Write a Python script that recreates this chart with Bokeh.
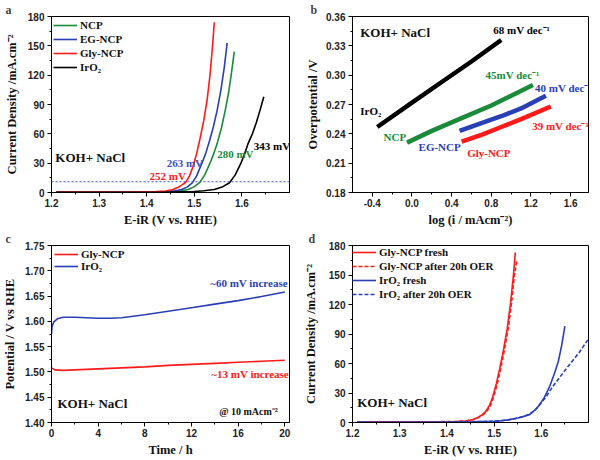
from bokeh.plotting import figure
from bokeh.layouts import gridplot
from bokeh.models import (Label, Span, SingleIntervalTicker, PrintfTickFormatter, Range1d)
from bokeh.embed import file_html
from bokeh.resources import INLINE

# ---------------- data ----------------
# Panel a: LSV curves (E-iR in V vs RHE, current density mA/cm2)
a_gly_x = [1.21, 1.30, 1.38, 1.42, 1.44, 1.455, 1.465, 1.475, 1.482, 1.49, 1.497, 1.505, 1.512, 1.52, 1.527, 1.533, 1.538, 1.542]
a_gly_y = [0.4, 0.5, 0.7, 1.0, 1.6, 3.0, 5.0, 8.0, 10.5, 17, 26, 40, 55, 74, 95, 120, 148, 174]
a_eg_x = [1.21, 1.30, 1.40, 1.44, 1.46, 1.473, 1.485, 1.495, 1.505, 1.516, 1.524, 1.532, 1.540, 1.548, 1.556, 1.563, 1.569]
a_eg_y = [0.3, 0.4, 0.6, 1.0, 1.8, 3.0, 5.5, 9.5, 17, 30, 40, 53, 67, 84, 105, 128, 153]
a_ncp_x = [1.21, 1.30, 1.40, 1.45, 1.47, 1.487, 1.50, 1.511, 1.522, 1.533, 1.541, 1.548, 1.557, 1.565, 1.572, 1.578, 1.584]
a_ncp_y = [0.2, 0.3, 0.4, 0.8, 1.5, 3.0, 6.0, 10, 18, 30, 40, 50, 66, 84, 102, 122, 144]
a_iro2_x = [1.21, 1.30, 1.40, 1.45, 1.50, 1.52, 1.542, 1.56, 1.574, 1.586, 1.598, 1.606, 1.613, 1.622, 1.630, 1.638, 1.646]
a_iro2_y = [0.1, 0.2, 0.3, 0.5, 1.0, 1.8, 3.0, 6.0, 10, 18, 30, 40, 50, 60, 71, 84, 98]
ref_current = 11

# Panel b: Tafel plots (log i, overpotential V)
b_iro2_x = [-0.35, 0.0, 0.3, 0.6, 0.9]
b_iro2_y = [0.247, 0.272, 0.293, 0.314, 0.336]
b_ncp_x = [-0.05, 0.2, 0.5, 0.8, 1.0, 1.22]
b_ncp_y = [0.231, 0.243, 0.256, 0.269, 0.279, 0.290]
b_eg_x = [0.48, 0.7, 0.9, 1.1, 1.35]
b_eg_y = [0.243, 0.251, 0.258, 0.266, 0.279]
b_gly_x = [0.50, 0.7, 0.9, 1.1, 1.4]
b_gly_y = [0.232, 0.239, 0.247, 0.255, 0.268]

# Panel c: chronopotentiometry (time h, potential V vs RHE)
c_iro2_t = [0, 0.05, 0.2, 0.5, 1, 2, 3, 4, 5, 6, 7, 8, 10, 12, 14, 16, 18, 20]
c_iro2_v = [1.575, 1.590, 1.599, 1.605, 1.608, 1.608, 1.607, 1.606, 1.606, 1.607, 1.610, 1.613, 1.620, 1.627, 1.634, 1.641, 1.649, 1.658]
c_gly_t = [0, 0.3, 1, 2, 4, 6, 8, 10, 12, 14, 16, 18, 20]
c_gly_v = [1.508, 1.504, 1.503, 1.504, 1.506, 1.508, 1.510, 1.513, 1.515, 1.517, 1.519, 1.521, 1.523]

# Panel d: LSV before / after 20 h OER
d_gly_fresh_x = [1.21, 1.30, 1.38, 1.42, 1.44, 1.455, 1.465, 1.475, 1.482, 1.49, 1.497, 1.505, 1.512, 1.52, 1.528, 1.535, 1.541, 1.545]
d_gly_fresh_y = [0.5, 0.6, 0.8, 1.0, 1.5, 3.0, 5.0, 8.0, 11, 17, 26, 40, 55, 74, 96, 122, 150, 173]
d_gly_after_x = [1.21, 1.30, 1.38, 1.42, 1.44, 1.457, 1.467, 1.477, 1.484, 1.492, 1.499, 1.507, 1.514, 1.522, 1.530, 1.537, 1.543, 1.548]
d_gly_after_y = [0.5, 0.6, 0.8, 1.0, 1.5, 3.0, 5.0, 8.0, 11, 17, 26, 40, 55, 74, 96, 122, 150, 165]
d_iro2_fresh_x = [1.21, 1.30, 1.40, 1.45, 1.50, 1.513, 1.53, 1.55, 1.565, 1.575, 1.59, 1.606, 1.618, 1.628, 1.636, 1.643, 1.650]
d_iro2_fresh_y = [0.2, 0.3, 0.5, 0.8, 1.3, 1.7, 2.7, 4.5, 6.5, 8.0, 14, 25, 37, 50, 62, 78, 98]
d_iro2_after_x = [1.21, 1.30, 1.40, 1.45, 1.50, 1.513, 1.53, 1.55, 1.565, 1.575, 1.585, 1.595, 1.61, 1.622, 1.636, 1.65, 1.665, 1.68, 1.70]
d_iro2_after_y = [0.2, 0.3, 0.5, 0.8, 1.3, 1.7, 2.7, 4.5, 6.5, 8.5, 12, 17, 26, 35, 44, 53, 62, 71, 85]

# ---------------- style ----------------
SERIF = "Liberation Serif"
SANS = "Liberation Sans"
RED = "#ff1a1a"
BLUE = "#2a3fb5"
GREEN = "#1b8a3a"
BLACK = "#000000"


def make_fig(w, h, xr, yr, bl, br, bt, bb, xint, yint, xfmt, yfmt, xlabel, ylabel,
             letter, letter_offset, ylab_standoff):
    p = figure(width=w, height=h, x_range=Range1d(*xr), y_range=Range1d(*yr),
               output_backend="svg", toolbar_location=None,
               min_border_left=bl, min_border_right=br, min_border_top=bt, min_border_bottom=bb)
    p.grid.visible = False
    p.outline_line_color = "black"
    p.outline_line_width = 1
    p.background_fill_color = "white"
    p.border_fill_color = "white"
    p.xaxis.ticker = SingleIntervalTicker(interval=xint, num_minor_ticks=2)
    p.yaxis.ticker = SingleIntervalTicker(interval=yint, num_minor_ticks=2)
    p.xaxis.formatter = PrintfTickFormatter(format=xfmt)
    p.yaxis.formatter = PrintfTickFormatter(format=yfmt)
    for ax in (p.xaxis, p.yaxis):
        ax.major_tick_out = 4
        ax.major_tick_in = 0
        ax.minor_tick_out = 2
        ax.minor_tick_in = 0
        ax.axis_line_color = "black"
        ax.major_tick_line_color = "black"
        ax.minor_tick_line_color = "black"
        ax.major_label_text_font = SANS
        ax.major_label_text_font_style = "bold"
        ax.major_label_text_font_size = "10px"
        ax.major_label_text_color = "#222222"
        ax.major_label_standoff = 3
        ax.axis_label_text_font = SERIF
        ax.axis_label_text_font_style = "bold"
        ax.axis_label_text_font_size = "12.5px"
        ax.axis_label_text_color = "#111111"
    p.xaxis.major_label_standoff = 2
    p.xaxis.axis_label_standoff = 3
    p.yaxis.axis_label_standoff = ylab_standoff
    p.xaxis.axis_label = xlabel
    p.yaxis.axis_label = ylabel
    # panel letter as the title (kept outside the frame)
    p.title.text = letter
    p.title.text_font = SERIF
    p.title.text_font_style = "bold"
    p.title.text_font_size = "12px"
    p.title.align = "left"
    p.title.offset = letter_offset
    p.title.standoff = 0
    return p


def add_text(p, x, y, text, color="#111111", size="11px", align="left", baseline="middle"):
    p.add_layout(Label(x=x, y=y, text=text, text_color=color, text_font=SERIF,
                       text_font_style="bold", text_font_size=size,
                       text_align=align, text_baseline=baseline))


def style_legend(p, pad=5, row=13):
    lg = p.legend[0]
    lg.location = "top_left"
    lg.background_fill_alpha = 0
    lg.border_line_alpha = 0
    lg.label_text_font = SERIF
    lg.label_text_font_style = "bold"
    lg.label_text_font_size = "11px"
    lg.label_text_color = "#111111"
    lg.glyph_width = 24
    lg.glyph_height = row
    lg.label_height = row
    lg.label_standoff = 3
    lg.spacing = 0
    lg.padding = pad
    lg.margin = 0


TOP_H = 229
BOT_H = 231

# ---------------- panel a ----------------
pa = make_fig(300, TOP_H, (1.2, 1.7), (0, 180), 49, 11, 14, 36, 0.1, 30, "%.1f", "%d",
              "E-iR (V vs. RHE)", "Current Density /mA.cm⁻²", "a", -46, 6)
pa.add_layout(Span(location=ref_current, dimension="width", line_color="#3355dd",
                   line_dash="2 2", line_width=1))
pa.line(a_ncp_x, a_ncp_y, line_color=GREEN, line_width=1.6, legend_label="NCP")
pa.line(a_eg_x, a_eg_y, line_color=BLUE, line_width=1.6, legend_label="EG-NCP")
pa.line(a_gly_x, a_gly_y, line_color=RED, line_width=1.6, legend_label="Gly-NCP")
pa.line(a_iro2_x, a_iro2_y, line_color=BLACK, line_width=1.6, legend_label="IrO₂")
style_legend(pa, pad=2, row=14)
add_text(pa, 1.208, 36.2, "KOH+ NaCl", size="13px")
add_text(pa, 1.442, 30.2, "263 mV", color="#3a52c8")
add_text(pa, 1.406, 17.1, "252 mV", color=RED)
add_text(pa, 1.548, 39.2, "280 mV", color=GREEN)
add_text(pa, 1.625, 47.3, "343 mV", color=BLACK)

# ---------------- panel b ----------------
pb = make_fig(300, TOP_H, (-0.6, 1.78), (0.18, 0.36), 45, 12, 14, 36, 0.4, 0.03, "%.1f", "%.2f",
              "log (i / mAcm⁻²)", "Overpotential /V", "b", -42, 3)
pb.line(b_iro2_x, b_iro2_y, line_color=BLACK, line_width=4.5)
pb.line(b_ncp_x, b_ncp_y, line_color=GREEN, line_width=4.5)
pb.line(b_eg_x, b_eg_y, line_color=BLUE, line_width=4.5)
pb.line(b_gly_x, b_gly_y, line_color=RED, line_width=4.5)
add_text(pb, -0.522, 0.344, "KOH+ NaCl", size="13px")
add_text(pb, 0.820, 0.346, "68 mV dec⁻¹", color=BLACK)
add_text(pb, 0.742, 0.2997, "45mV dec⁻¹", color=GREEN)
add_text(pb, 1.241, 0.2866, "40 mV dec⁻¹", color=BLUE)
add_text(pb, 1.212, 0.2484, "39 mV dec⁻¹", color=RED)
add_text(pb, -0.522, 0.2635, "IrO₂", color=BLACK)
add_text(pb, -0.287, 0.2363, "NCP", color=GREEN)
add_text(pb, 0.066, 0.2263, "EG-NCP", color=BLUE)
add_text(pb, 0.556, 0.2202, "Gly-NCP", color=RED)

# ---------------- panel c ----------------
pc = make_fig(300, BOT_H, (0, 20.4), (1.40, 1.75), 49, 11, 12, 37, 4, 0.05, "%d", "%.2f",
              "Time / h", "Potential / V vs RHE", "c", -46, 5)
pc.line(c_gly_t, c_gly_v, line_color=RED, line_width=1.6, legend_label="Gly-NCP")
pc.line(c_iro2_t, c_iro2_v, line_color=BLUE, line_width=1.6, legend_label="IrO₂")
style_legend(pc, pad=3, row=12)
add_text(pc, 13.6, 1.6765, "~60 mV increase", color=BLUE)
add_text(pc, 13.7, 1.4967, "~13 mV increase", color=RED)
add_text(pc, 0.51, 1.4367, "KOH+ NaCl", size="13px")
add_text(pc, 14.37, 1.4213, "@ 10 mAcm⁻²", size="10px")

# ---------------- panel d ----------------
pd_ = make_fig(300, BOT_H, (1.2, 1.7), (0, 180), 49, 10, 12, 38, 0.1, 30, "%.1f", "%d",
               "E-iR (V vs. RHE)", "Current Density /mA.cm⁻²", "d", -44, 8)
pd_.line(d_gly_fresh_x, d_gly_fresh_y, line_color=RED, line_width=1.6, legend_label="Gly-NCP fresh")
pd_.line(d_gly_after_x, d_gly_after_y, line_color=RED, line_width=1.6, line_dash="4 2",
         legend_label="Gly-NCP after 20h OER")
pd_.line(d_iro2_fresh_x, d_iro2_fresh_y, line_color=BLUE, line_width=1.6, legend_label="IrO₂ fresh")
pd_.line(d_iro2_after_x, d_iro2_after_y, line_color=BLUE, line_width=1.6, line_dash="4 2",
         legend_label="IrO₂ after 20h OER")
style_legend(pd_, pad=0, row=14)
add_text(pd_, 1.210, 20, "KOH+ NaCl", size="13px")

grid = gridplot([[pa, pb], [pc, pd_]], toolbar_location=None)

with open("out.html", "w") as f:
    f.write(file_html(grid, INLINE))
